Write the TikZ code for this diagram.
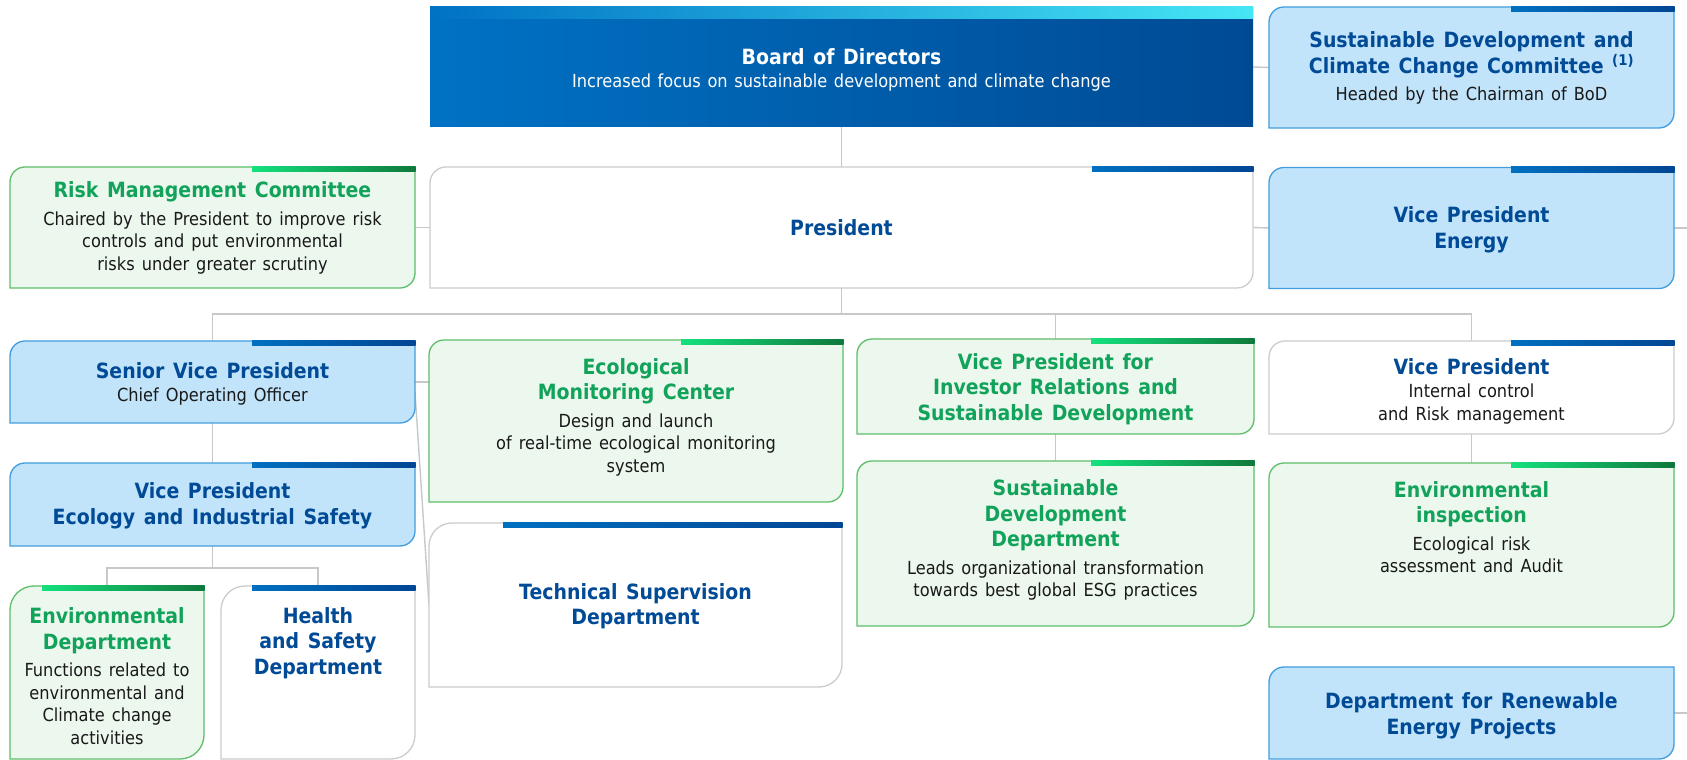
\documentclass[tikz,border=0pt]{standalone}
\usepackage{fontspec}
\setmainfont{DejaVu Sans}[FakeStretch=0.9]
\usetikzlibrary{calc}
\definecolor{dblue}{RGB}{0,74,150}
\definecolor{tgreen}{RGB}{18,163,90}
\definecolor{lbfill}{RGB}{193,228,251}
\definecolor{lbborder}{RGB}{66,157,222}
\definecolor{lgfill}{RGB}{236,247,238}
\definecolor{lgborder}{RGB}{95,190,105}
\definecolor{gborder}{RGB}{204,204,204}
\definecolor{sb1}{RGB}{0,112,192}
\definecolor{sb2}{RGB}{0,70,148}
\definecolor{sg1}{RGB}{20,225,125}
\definecolor{sg2}{RGB}{15,120,60}
\definecolor{bod1}{RGB}{0,114,196}
\definecolor{bod2}{RGB}{0,74,148}
\definecolor{bodc}{RGB}{70,230,245}
\definecolor{linec}{RGB}{200,200,200}
\definecolor{txtc}{RGB}{25,25,25}
\newcommand\orgoutline[4]{%
 \draw[fill=#2,draw=#3,line width=1.3pt] (#1.south west) -- ([yshift=-#4]#1.north west) arc[start angle=180,end angle=90,radius=#4] -- (#1.north east) -- ([yshift=#4]#1.south east) arc[start angle=0,end angle=-90,radius=#4] -- cycle;}
\newcommand\orgstrip[4]{%
 \shade[left color=#3,right color=#4] ([xshift=-#2,yshift=0.8pt]#1.north east) rectangle ([xshift=0.65pt,yshift=-5pt]#1.north east);}
\newcommand\ttl[2][dblue]{{\fontsize{21}{25.5}\selectfont\bfseries\spaceskip=0.41em\relax\noindent\color{#1}#2\par}}
\newcommand\dsc[2][5pt]{{\vspace{#1}\fontsize{18}{22.5}\selectfont\spaceskip=0.39em\relax\noindent\color{txtc}#2\par}}
\begin{document}
\begin{tikzpicture}[x=1pt,y=1pt,
  boxn/.style={rectangle,inner sep=0pt,outer sep=0pt},
  conn/.style={draw=linec,line width=1.4pt},
  txt/.style={align=center,inner sep=0pt,outer sep=0pt}]
\useasboundingbox (0,0) rectangle (1687,760);
\fill[white] (0,0) rectangle (1687,760);
% box nodes
\node[boxn,minimum width=823pt,minimum height=120pt] (bod) at (841.5,693) {};
\node[boxn,minimum width=405pt,minimum height=121pt] (sdcc) at (1471.5,692.5) {};
\node[boxn,minimum width=405pt,minimum height=121pt] (risk) at (212.5,532.5) {};
\node[boxn,minimum width=823pt,minimum height=121pt] (pres) at (841.5,532.5) {};
\node[boxn,minimum width=405pt,minimum height=121pt] (vpe) at (1471.5,532) {};
\node[boxn,minimum width=405pt,minimum height=82pt] (svp) at (212.5,378) {};
\node[boxn,minimum width=414pt,minimum height=162pt] (emc) at (636,339) {};
\node[boxn,minimum width=397pt,minimum height=95pt] (vpir) at (1055.5,373.5) {};
\node[boxn,minimum width=405pt,minimum height=93pt] (vpic) at (1471.5,372.5) {};
\node[boxn,minimum width=405pt,minimum height=83pt] (vpeco) at (212.5,255.5) {};
\node[boxn,minimum width=413pt,minimum height=164pt] (tsd) at (635.5,155) {};
\node[boxn,minimum width=397pt,minimum height=165pt] (sdd) at (1055.5,216.5) {};
\node[boxn,minimum width=405pt,minimum height=164pt] (einsp) at (1471.5,215) {};
\node[boxn,minimum width=194pt,minimum height=173pt] (envd) at (107,87.5) {};
\node[boxn,minimum width=194pt,minimum height=173pt] (hs) at (318,87.5) {};
\node[boxn,minimum width=405pt,minimum height=92pt] (dre) at (1471.5,47) {};
% connectors
\coordinate (busP) at (841.5,446);
\coordinate (busE) at (212.5,192);
\coordinate (outE) at (1687,532);
\coordinate (outR) at (1687,47);
\draw[conn] (bod.south) -- (pres.north);
\draw[conn] (bod.east) -- (sdcc.west);
\draw[conn] (pres.west) -- (risk.east);
\draw[conn] (pres.east) -- (vpe.west);
\draw[conn] (vpe.east) -- (outE);
\draw[conn] (dre.east) -- (outR);
\draw[conn] (pres.south) -- (busP);
\draw[conn] (svp.north) |- (busP) -| (vpic.north);
\draw[conn] (vpir.north) -- (vpir.north |- busP);
\draw[conn] (svp.east) -- (emc.west |- svp.east);
\draw[conn] ([yshift=-10pt]svp.east) -- (tsd.west);
\draw[conn] (svp.south) -- (vpeco.north);
\draw[conn] (vpeco.south) -- (busE);
\draw[conn] (envd.north) |- (busE) -| (hs.north);
\draw[conn] (vpir.south) -- (sdd.north);
\draw[conn] (vpic.south) -- (einsp.north);
% board of directors
\shade[left color=bod1,right color=bod2] (bod.south west) rectangle (bod.north east);
\shade[left color=bod1,right color=bodc] (bod.north west) rectangle ([yshift=-12pt]bod.north east);
% boxes
\orgoutline{sdcc}{lbfill}{lbborder}{15pt}\orgstrip{sdcc}{163pt}{sb1}{sb2}
\orgoutline{vpe}{lbfill}{lbborder}{15pt}\orgstrip{vpe}{163pt}{sb1}{sb2}
\orgoutline{risk}{lgfill}{lgborder}{15pt}\orgstrip{risk}{163pt}{sg1}{sg2}
\orgoutline{pres}{white}{gborder}{16pt}\orgstrip{pres}{161pt}{sb1}{sb2}
\orgoutline{svp}{lbfill}{lbborder}{15pt}\orgstrip{svp}{163pt}{sb1}{sb2}
\orgoutline{vpeco}{lbfill}{lbborder}{15pt}\orgstrip{vpeco}{163pt}{sb1}{sb2}
\orgoutline{emc}{lgfill}{lgborder}{15pt}\orgstrip{emc}{162pt}{sg1}{sg2}
\orgoutline{tsd}{white}{gborder}{23pt}\orgstrip{tsd}{339pt}{sb1}{sb2}
\orgoutline{vpir}{lgfill}{lgborder}{15pt}\orgstrip{vpir}{163pt}{sg1}{sg2}
\orgoutline{sdd}{lgfill}{lgborder}{15pt}\orgstrip{sdd}{163pt}{sg1}{sg2}
\orgoutline{vpic}{white}{gborder}{16pt}\orgstrip{vpic}{163pt}{sb1}{sb2}
\orgoutline{einsp}{lgfill}{lgborder}{15pt}\orgstrip{einsp}{163pt}{sg1}{sg2}
\orgoutline{envd}{lgfill}{lgborder}{24pt}\orgstrip{envd}{162pt}{sg1}{sg2}
\orgoutline{hs}{white}{gborder}{24pt}\orgstrip{hs}{163pt}{sb1}{sb2}
\orgoutline{dre}{lbfill}{lbborder}{15pt}
% texts
\node[txt,text width=800pt] (bod-t) at (841.5,690) {\ttl[white]{Board of Directors}{\vspace{0pt}\fontsize{18}{22.5}\selectfont\spaceskip=0.37em\relax\noindent\color{white}Increased focus on sustainable development and climate change\par}};
\node[txt,text width=397pt] (sdcc-t) at (1471.5,692) {\ttl{Sustainable Development and\\Climate Change Committee \textsuperscript{(1)}}\dsc{Headed by the Chairman of BoD}};
\node[txt,text width=397pt] (risk-t) at (212.5,532) {\ttl[tgreen]{Risk Management Committee}\dsc{Chaired by the President to improve risk\\controls and put environmental\\risks under greater scrutiny}};
\node[txt,text width=800pt] (pres-t) at (841.5,532) {\ttl{President}};
\node[txt,text width=397pt] (vpe-t) at (1471.5,530) {\ttl{Vice President\\Energy}};
\node[txt,text width=397pt] (svp-t) at (212.5,376) {\ttl{Senior Vice President}\dsc[0pt]{Chief Operating Officer}};
\node[txt,text width=404pt] (emc-t) at (636,343) {\ttl[tgreen]{Ecological\\Monitoring Center}\dsc{Design and launch\\of real-time ecological monitoring\\system}};
\node[txt,text width=389pt] (vpir-t) at (1055.5,371) {\ttl[tgreen]{Vice President for\\Investor Relations and\\Sustainable Development}};
\node[txt,text width=397pt] (vpic-t) at (1471.5,369) {\ttl{Vice President}\dsc[1pt]{Internal control\\and Risk management}};
\node[txt,text width=397pt] (vpeco-t) at (212.5,254) {\ttl{Vice President\\Ecology and Industrial Safety}};
\node[txt,text width=403pt] (tsd-t) at (635.5,154) {\ttl{Technical Supervision\\Department}};
\node[txt,text width=389pt] (sdd-t) at (1055.5,220) {\ttl[tgreen]{Sustainable\\Development\\Department}\dsc{Leads organizational transformation\\towards best global ESG practices}};
\node[txt,text width=397pt] (einsp-t) at (1471.5,233) {\ttl[tgreen]{Environmental\\inspection}\dsc{Ecological risk\\assessment and Audit}};
\node[txt,text width=190pt] (envd-t) at (107,84) {\ttl[tgreen]{Environmental\\Department}\dsc{Functions related to\\environmental and\\Climate change\\activities}};
\node[txt,text width=190pt] (hs-t) at (318,117) {\ttl{Health\\and Safety\\Department}};
\node[txt,text width=397pt] (dre-t) at (1471.5,44) {\ttl{Department for Renewable\\Energy Projects}};
\end{tikzpicture}
\end{document}
